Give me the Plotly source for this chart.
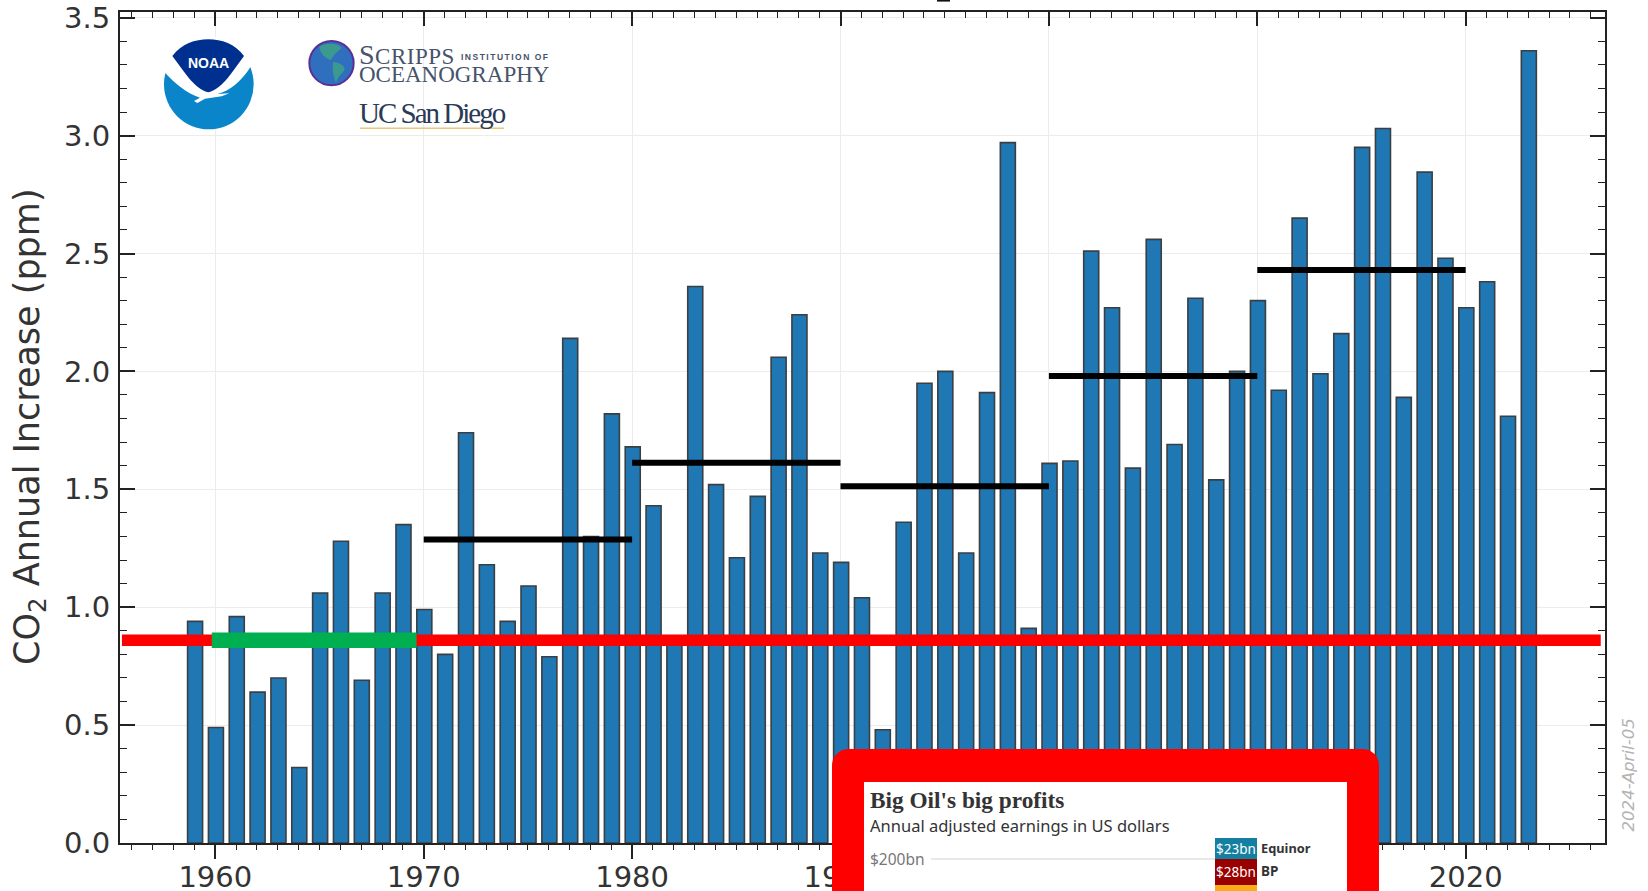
import plotly.graph_objects as go

# ---------- data ----------
years = list(range(1959, 2024))
growth = [0.94, 0.49, 0.96, 0.64, 0.70, 0.32, 1.06, 1.28, 0.69, 1.06, 1.35,
          0.99, 0.80, 1.74, 1.18, 0.94, 1.09, 0.79, 2.14, 1.30, 1.82,
          1.68, 1.43, 0.84, 2.36, 1.52, 1.21, 1.47, 2.06, 2.24, 1.23,
          1.19, 1.04, 0.48, 1.36, 1.95, 2.00, 1.23, 1.91, 2.97, 0.91,
          1.61, 1.62, 2.51, 2.27, 1.59, 2.56, 1.69, 2.31, 1.54, 2.00,
          2.30, 1.92, 2.65, 1.99, 2.16, 2.95, 3.03, 1.89, 2.845, 2.48,
          2.27, 2.38, 1.81, 3.36]
decade_starts = [1970, 1980, 1990, 2000, 2010]
decade_ends = [1980, 1990, 2000, 2010, 2020]
decade_means = [1.287, 1.613, 1.513, 1.98, 2.43]
baseline_x = [1955.52, 2026.48]
baseline_y = [0.86, 0.86]
sixties_x = [1959.83, 1969.66]
sixties_y = [0.86, 0.86]
x_ticks = [1960, 1970, 1980, 1990, 2000, 2010, 2020]
y_ticks = [0.0, 0.5, 1.0, 1.5, 2.0, 2.5, 3.0, 3.5]

# ---------- page geometry ----------
W, H = 1648, 891
L, R, T, B = 120, 1605, 12, 843
x_range = [1960 + (L - 215.3) / 20.84, 1960 + (R - 215.3) / 20.84]
y_range = [0, (B - T) / 235.8]


def fx(px):
    return (px - L) / (R - L)


def fy(py):
    return (B - py) / (B - T)


def path(*cmds):
    out = []
    for c in cmds:
        if isinstance(c, str):
            out.append(c)
        else:
            out.append(f"{fx(c[0]):.5f},{fy(c[1]):.5f}")
    return " ".join(out)


def shp(p, fill, line=None, lw=0):
    return dict(type="path", xref="paper", yref="paper", path=p, fillcolor=fill,
                line=dict(color=line or fill, width=lw), layer="above")


def rect(x0, y0, x1, y1, fill):
    return dict(type="rect", xref="paper", yref="paper", x0=fx(x0), x1=fx(x1),
                y0=fy(y0), y1=fy(y1), fillcolor=fill, line=dict(width=0), layer="above")


def txt(x, y, s, size, color, family, xanchor="left", angle=0, yanchor="middle"):
    return dict(xref="paper", yref="paper", x=fx(x), y=fy(y), text=s, showarrow=False,
                xanchor=xanchor, yanchor=yanchor, textangle=angle,
                font=dict(size=size, color=color, family=family),
                borderpad=0, borderwidth=0)


fig = go.Figure()
fig.add_trace(go.Bar(x=years, y=growth, width=0.72, offset=-0.33, marker=dict(color="#1f77b4",
              line=dict(color="#3a3f44", width=1.6)), showlegend=False))
fig.add_trace(go.Scatter(x=baseline_x, y=baseline_y, mode="lines",
              line=dict(color="#ff0000", width=11.5), showlegend=False))
fig.add_trace(go.Scatter(x=sixties_x, y=sixties_y, mode="lines",
              line=dict(color="#00b050", width=15.5), showlegend=False))
for s, e, m in zip(decade_starts, decade_ends, decade_means):
    fig.add_trace(go.Scatter(x=[s, e], y=[m, m], mode="lines",
                  line=dict(color="#000000", width=6), showlegend=False))
# carries the top and right axes
fig.add_trace(go.Scatter(x=[x_ticks[0]], y=[y_ticks[0]], xaxis="x2", yaxis="y2", mode="markers",
              marker=dict(opacity=0), hoverinfo="skip", showlegend=False))

AX = "#222222"
FONT = "DejaVu Sans"
GRID = "#ececec"
shapes = []

# NOAA logo
def nz(X, Y):
    return (140 + X / 3, 20 + Y / 3)

shapes.append(dict(type="circle", xref="paper", yref="paper", x0=fx(nz(72, 0)[0]), x1=fx(nz(341, 0)[0]),
                   y0=fy(nz(0, 58)[1]), y1=fy(nz(0, 328)[1]), fillcolor="#0a85c9", line=dict(width=0), layer="above"))
shapes.append(shp(path("M", nz(60, 50), "L", nz(350, 50), "L", nz(350, 120), "L", nz(335, 135),
                       "C", nz(305, 185), nz(270, 212), nz(232, 222), "L", nz(268, 220), "L", nz(245, 229),
                       "L", nz(195, 236), "L", nz(172, 249), "L", nz(162, 243), "L", nz(180, 233),
                       "C", nz(140, 220), nz(105, 190), nz(72, 155), "L", nz(60, 150), "Z"), "#ffffff"))
shapes.append(shp(path("M", nz(97, 108), "C", nz(125, 72), nz(165, 58), nz(205, 58),
                       "C", nz(245, 58), nz(285, 72), nz(312, 108),
                       "C", nz(280, 150), nz(250, 205), nz(205, 217),
                       "C", nz(160, 205), nz(130, 150), nz(97, 108), "Z"), "#00308f"))

# Scripps globe
def gz(X, Y):
    return (300 + X / 3, 30 + Y / 3)

shapes.append(dict(type="circle", xref="paper", yref="paper", x0=fx(gz(28, 0)[0]), x1=fx(gz(161, 0)[0]),
                   y0=fy(gz(0, 33)[1]), y1=fy(gz(0, 166)[1]), fillcolor="#2f6fbd",
                   line=dict(color="#5a2f96", width=2), layer="above"))
shapes.append(shp(path("M", gz(58, 50), "C", gz(75, 38), gz(115, 38), gz(125, 55), "C", gz(110, 65), gz(100, 78), gz(92, 90),
                       "C", gz(75, 85), gz(62, 72), gz(58, 50), "Z"), "#3a9a90"))
shapes.append(shp(path("M", gz(100, 95), "C", gz(120, 98), gz(140, 110), gz(132, 122), "C", gz(122, 132), gz(112, 145), gz(108, 158),
                       "C", gz(100, 140), gz(95, 115), gz(100, 95), "Z"), "#3a9a90"))
shapes.append(rect(360, 127.5, 504, 129, "#e8c878"))

# Inset
r = 17
ox0, oy0, ox1, oy1 = 832, 749, 1379, 900
shapes.append(shp(path("M", (ox0, oy1), "L", (ox0, oy0 + r), "C", (ox0, oy0 + 7), (ox0 + 7, oy0), (ox0 + r, oy0),
                       "L", (ox1 - r, oy0), "C", (ox1 - 7, oy0), (ox1, oy0 + 7), (ox1, oy0 + r),
                       "L", (ox1, oy1), "Z"), "#ff0000"))
shapes.append(rect(864, 782, 1347, 900, "#ffffff"))
shapes.append(rect(931, 858, 1215, 860, "#e8e8e8"))
shapes.append(rect(1215, 838, 1257, 859, "#1380a1"))
shapes.append(rect(1215, 859, 1257, 885, "#990000"))
shapes.append(rect(1215, 885, 1257, 900, "#faab18"))
# title descender clipped by the top of the page
shapes.append(rect(937, 0, 950, 1.6, "#111111"))

annotations = [
    txt(30, 427, "CO<sub>2</sub> Annual Increase (ppm)", 35, "#333333", FONT, xanchor="center", angle=-90),
    txt(1627.5, 775, "<i>2024-April-05</i>", 16.6, "#b3b3b3", FONT, xanchor="center", angle=-90),
    txt(208.5, 63, "<b>NOAA</b>", 14, "#ffffff", "Liberation Sans", xanchor="center"),
    txt(359, 54, '<span style="letter-spacing:0.5px"><span style="font-size:28px">S</span>CRIPPS</span>', 23, "#46536b", "Liberation Serif"),
    txt(461, 57, '<span style="letter-spacing:1.5px"><b>INSTITUTION OF</b></span>', 8.5, "#46536b", "Liberation Sans"),
    txt(359, 75, "OCEANOGRAPHY", 23, "#46536b", "Liberation Serif"),
    txt(359, 113, '<span style="letter-spacing:-2px">UC San Diego</span>', 29, "#2b3a55", "Liberation Serif"),
    txt(870, 800, "<b>Big Oil's big profits</b>", 23.3, "#333333", "Liberation Serif"),
    txt(870, 825, "Annual adjusted earnings in US dollars", 16.5, "#333333", "Noto Sans"),
    txt(870, 859, "$200bn", 15.5, "#777777", "Noto Sans"),
    txt(1236, 849, "$23bn", 13.5, "#ffffff", "Noto Sans", xanchor="center"),
    txt(1236, 872, "$28bn", 13.5, "#ffffff", "Noto Sans", xanchor="center"),
    txt(1261, 848, "<b>Equinor</b>", 12.8, "#333333", "Noto Sans"),
    txt(1261, 871, "<b>BP</b>", 13.5, "#333333", "Noto Sans"),
]

fig.update_layout(
    width=W, height=H, autosize=False, margin=dict(l=L, r=W - R, t=T, b=H - B, pad=0, autoexpand=False),
    paper_bgcolor="#ffffff", plot_bgcolor="#ffffff", showlegend=False,
    font=dict(family=FONT, color="#333333"),
    shapes=shapes, annotations=annotations,
    xaxis=dict(range=x_range, tickmode="array", tickvals=x_ticks, ticktext=[str(v) for v in x_ticks],
               automargin=False, ticks="outside", ticklen=14, tickwidth=1.6, tickcolor=AX, ticklabelstandoff=-7,
               minor=dict(dtick=1, tick0=x_ticks[0], ticks="outside", ticklen=5, tickwidth=1.4, tickcolor=AX, showgrid=False),
               showgrid=True, gridcolor=GRID, gridwidth=1, zeroline=False,
               showline=True, linecolor=AX, linewidth=2, tickfont=dict(size=29, color="#333333", family=FONT)),
    yaxis=dict(range=y_range, tickmode="array", tickvals=y_ticks, ticktext=[f"{v:.1f}" for v in y_ticks],
               automargin=False, ticks="inside", ticklen=15, tickwidth=1.6, tickcolor=AX,
               minor=dict(dtick=0.1, tick0=0, ticks="inside", ticklen=7, tickwidth=1.4, tickcolor=AX, showgrid=False),
               showgrid=True, gridcolor=GRID, gridwidth=1, zeroline=False, ticklabelstandoff=2,
               showline=True, linecolor=AX, linewidth=2, tickfont=dict(size=29, color="#333333", family=FONT)),
    xaxis2=dict(range=x_range, overlaying="x", side="top", anchor="y2", tickmode="array", tickvals=x_ticks,
                automargin=False, showticklabels=False, ticks="inside", ticklen=14, tickwidth=1.6, tickcolor=AX,
                minor=dict(dtick=1, tick0=x_ticks[0], ticks="inside", ticklen=5.5, tickwidth=1.4, tickcolor=AX, showgrid=False),
                showgrid=False, zeroline=False, showline=True, linecolor=AX, linewidth=2),
    yaxis2=dict(range=y_range, overlaying="y", side="right", anchor="x2", tickmode="array", tickvals=y_ticks,
                automargin=False, showticklabels=False, ticks="inside", ticklen=15, tickwidth=1.6, tickcolor=AX,
                minor=dict(dtick=0.1, tick0=0, ticks="inside", ticklen=7, tickwidth=1.4, tickcolor=AX, showgrid=False),
                showgrid=False, zeroline=False, showline=True, linecolor=AX, linewidth=2),
)

fig.write_html("out.html", config=dict(displayModeBar=False),
               post_script="document.body.style.margin='0';document.body.style.overflow='hidden';")
